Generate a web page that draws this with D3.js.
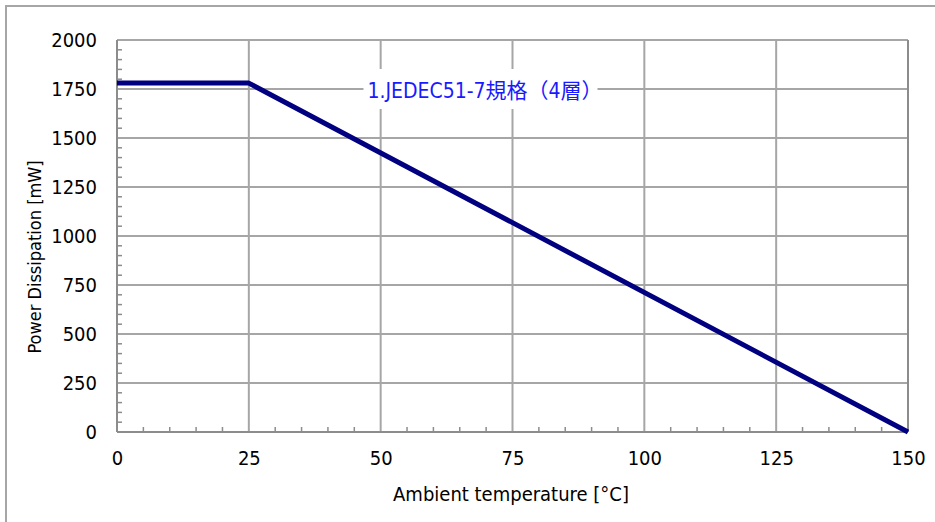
<!DOCTYPE html>
<html>
<head>
<meta charset="utf-8">
<script src="https://cdn.jsdelivr.net/npm/d3@7"></script>
<style>
  body { margin: 0; background: #fff; }
  text { font-family: "DejaVu Sans Condensed", "DejaVu Sans", sans-serif; fill: #000; }
</style>
</head>
<body>
<div id="chart"></div>
<script>
// derating curve
var temps = [0, 25, 150];
var power = [1780, 1780, 0];
var xTicks = [0, 25, 50, 75, 100, 125, 150];
var yTicks = [0, 250, 500, 750, 1000, 1250, 1500, 1750, 2000];
var seriesName = "1.JEDEC51-7規格（4層）";

var W = 935, H = 522;
var margin = { top: 40, right: 27, bottom: 90, left: 117 };
var width = W - margin.left - margin.right;
var height = H - margin.top - margin.bottom;

var svg = d3.select("#chart").append("svg")
    .attr("width", W)
    .attr("height", H);

// outer frame (runs off the right / bottom edge)
svg.append("rect")
    .attr("x", 6).attr("y", 6)
    .attr("width", W + 10).attr("height", H + 10)
    .attr("fill", "none")
    .attr("stroke", "#a6a6a6")
    .attr("stroke-width", 2);

var g = svg.append("g")
    .attr("transform", "translate(" + margin.left + "," + margin.top + ")");

var x = d3.scaleLinear().domain([0, 150]).range([0, width]);
var y = d3.scaleLinear().domain([0, 2000]).range([height, 0]);

// grid lines
g.append("g").selectAll("line")
    .data(xTicks)
    .enter().append("line")
    .attr("x1", function (d) { return x(d); })
    .attr("x2", function (d) { return x(d); })
    .attr("y1", 0).attr("y2", height)
    .attr("stroke", "#a6a6a6")
    .attr("stroke-width", 2);

g.append("g").selectAll("line")
    .data(yTicks)
    .enter().append("line")
    .attr("x1", 0).attr("x2", width)
    .attr("y1", function (d) { return y(d); })
    .attr("y2", function (d) { return y(d); })
    .attr("stroke", "#a6a6a6")
    .attr("stroke-width", 2);

// minor ticks pointing inward
var xMinor = d3.range(0, 151, 5).filter(function (d) { return d % 25 !== 0; });
var yMinor = d3.range(0, 2001, 50).filter(function (d) { return d % 250 !== 0; });

g.append("g").selectAll("line")
    .data(xMinor)
    .enter().append("line")
    .attr("x1", function (d) { return x(d); })
    .attr("x2", function (d) { return x(d); })
    .attr("y1", height).attr("y2", height - 5)
    .attr("stroke", "#8c8c8c")
    .attr("stroke-width", 1.5);

g.append("g").selectAll("line")
    .data(yMinor)
    .enter().append("line")
    .attr("x1", 0).attr("x2", 5)
    .attr("y1", function (d) { return y(d); })
    .attr("y2", function (d) { return y(d); })
    .attr("stroke", "#8c8c8c")
    .attr("stroke-width", 1.5);

// axis lines
g.append("line")
    .attr("x1", 0).attr("x2", 0).attr("y1", 0).attr("y2", height)
    .attr("stroke", "#8c8c8c").attr("stroke-width", 2);
g.append("line")
    .attr("x1", 0).attr("x2", width).attr("y1", height).attr("y2", height)
    .attr("stroke", "#8c8c8c").attr("stroke-width", 2);
g.append("line")
    .attr("x1", width).attr("x2", width).attr("y1", 0).attr("y2", height)
    .attr("stroke", "#8c8c8c").attr("stroke-width", 2);

// tick labels
var yAxis = d3.axisLeft(y).tickValues(yTicks).tickSize(0).tickPadding(20)
    .tickFormat(d3.format("d"));
var gy = g.append("g").call(yAxis);
gy.select(".domain").remove();
gy.selectAll("text").style("font-size", "20px");

var xAxis = d3.axisBottom(x).tickValues(xTicks).tickSize(0).tickPadding(19)
    .tickFormat(d3.format("d"));
var gx = g.append("g").attr("transform", "translate(0," + height + ")").call(xAxis);
gx.select(".domain").remove();
gx.selectAll("text").style("font-size", "20px");

// series label with white box behind it
var lbl = g.append("g").attr("transform", "translate(" + (x(47.5)) + "," + (y(1750)) + ")");
lbl.append("rect")
    .attr("x", -4).attr("y", -20)
    .attr("width", 234).attr("height", 40)
    .attr("fill", "#fff");
lbl.append("text")
    .attr("x", 0).attr("y", 9)
    .style("font-size", "21px")
    .style("fill", "#1a1aff")
    .style("font-family", "'DejaVu Sans Condensed', 'Noto Sans CJK JP', sans-serif")
    .text(seriesName);

// the curve
var pts = temps.map(function (t, i) { return [t, power[i]]; });
var line = d3.line()
    .x(function (d) { return x(d[0]); })
    .y(function (d) { return y(d[1]); });

g.append("path")
    .datum(pts)
    .attr("d", line)
    .attr("fill", "none")
    .attr("stroke", "#000080")
    .attr("stroke-width", 5)
    .attr("stroke-linejoin", "round");

// axis titles
svg.append("text")
    .attr("x", 511)
    .attr("y", 501)
    .attr("text-anchor", "middle")
    .style("font-size", "20px")
    .text("Ambient temperature [°C]");

svg.append("text")
    .attr("transform", "translate(41," + 257 + ") rotate(-90)")
    .attr("text-anchor", "middle")
    .style("font-size", "18px")
    .text("Power Dissipation [mW]");
</script>
</body>
</html>
